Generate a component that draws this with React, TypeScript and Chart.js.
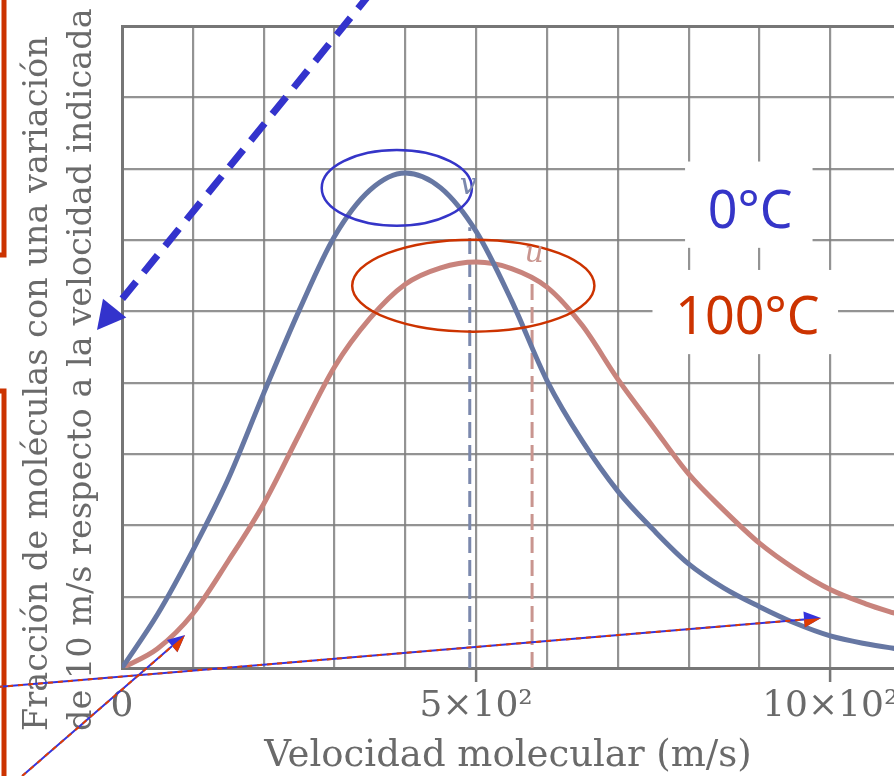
import React, { useEffect, useRef } from 'react';
import { Chart, registerables } from 'chart.js';

Chart.register(...registerables);

// ---------------- data ----------------
// molecular speed (m/s)
const speeds = [0, 50, 100, 150, 200, 250, 300, 350, 400, 450, 500, 550, 600, 650, 700, 750, 800, 850, 900, 950, 1000, 1050, 1100];
// fraction of molecules (grid units) at 0 °C
const fraction0C = [0, 0.75, 1.65, 2.65, 3.85, 5.01, 6.05, 6.7, 6.94, 6.73, 6.12, 5.15, 4.03, 3.18, 2.48, 1.94, 1.46, 1.12, 0.86, 0.63, 0.45, 0.34, 0.26];
// fraction of molecules (grid units) at 100 °C
const fraction100C = [0, 0.27, 0.76, 1.5, 2.3, 3.27, 4.22, 4.9, 5.38, 5.61, 5.69, 5.6, 5.34, 4.8, 4.05, 3.38, 2.72, 2.21, 1.75, 1.39, 1.1, 0.9, 0.74];

const seriesNames = ['0°C', '100°C'];

// characteristic speeds marked with dashed lines
const markerSpeeds = [491, 579];
const markerTops = [6.18, 5.42];
const markerLabels = ['v', 'u'];

// axes
const xGridValues = [0, 100, 200, 300, 400, 500, 600, 700, 800, 900, 1000];
const xTickLabels = ['0', '', '', '', '', '5×10²', '', '', '', '', '10×10²'];
const yGridValues = [0, 1, 2, 3, 4, 5, 6, 7, 8, 9];
const xMax = 1090;
const yMax = 9;
const xTitle = 'Velocidad molecular (m/s)';
const yTitleLines = ['Fracción de moléculas con una variación', 'de 10 m/s respecto a la velocidad indicada'];

// ---------------- styles ----------------
const BLUE_CURVE = '#6677a3';
const RED_CURVE = '#c8837c';
const BLUE_DASH = '#7b88ad';
const RED_DASH = '#c9958f';
const GRID = 'rgba(128,128,128,0.85)';
const AXIS = '#767676';
const TEXT_GREY = '#6a6a6a';
const ANNOT_BLUE = '#3535c8';
const ANNOT_RED = '#cc3300';

const annotationPlugin = {
  id: 'annotations',
  beforeDatasetsDraw(chart: any) {
    const ctx = chart.ctx as CanvasRenderingContext2D;
    const xs = chart.scales.x;
    const ys = chart.scales.y;
    // white patches behind the temperature labels (gaps in grid)
    const boxes = [
      { v0: 795, v1: 975, y0: 5.89, y1: 7.1 },
      { v0: 749, v1: 1011, y0: 4.4, y1: 5.58 },
    ];
    ctx.save();
    ctx.fillStyle = '#ffffff';
    boxes.forEach((b) => {
      const x0 = xs.getPixelForValue(b.v0);
      const x1 = xs.getPixelForValue(b.v1);
      const y0 = ys.getPixelForValue(b.y1);
      const y1 = ys.getPixelForValue(b.y0);
      ctx.fillRect(x0, y0, x1 - x0, y1 - y0);
    });
    ctx.restore();
  },
  afterDatasetsDraw(chart: any) {
    const ctx = chart.ctx as CanvasRenderingContext2D;
    const xs = chart.scales.x;
    const ys = chart.scales.y;
    const px = (v: number) => xs.getPixelForValue(v);
    const py = (v: number) => ys.getPixelForValue(v);

    ctx.save();
    // ellipses around the peaks
    const ellipses = [
      { cx: 388, cy: 6.73, rx: 106, ry: 0.53, color: ANNOT_BLUE },
      { cx: 496, cy: 5.36, rx: 171, ry: 0.645, color: ANNOT_RED },
    ];
    ellipses.forEach((e) => {
      const cx = px(e.cx);
      const cy = py(e.cy);
      const rx = px(e.cx + e.rx) - cx;
      const ry = cy - py(e.cy + e.ry);
      ctx.beginPath();
      ctx.ellipse(cx, cy, rx, ry, 0, 0, Math.PI * 2);
      ctx.strokeStyle = e.color;
      ctx.lineWidth = 2.5;
      ctx.stroke();
    });

    // v / u italic labels
    ctx.font = 'italic 30px "DejaVu Serif"';
    ctx.textAlign = 'center';
    ctx.textBaseline = 'middle';
    const labelPos = [
      { v: 489, y: 6.76, color: BLUE_DASH },
      { v: 582, y: 5.8, color: RED_DASH },
    ];
    markerLabels.forEach((t, i) => {
      ctx.fillStyle = labelPos[i].color;
      ctx.fillText(t, px(labelPos[i].v), py(labelPos[i].y));
    });

    // temperature labels
    ctx.font = '52px "Noto Sans"';
    ctx.textBaseline = 'alphabetic';
    ctx.fillStyle = ANNOT_BLUE;
    ctx.fillText(seriesNames[0], px(887), py(6.17));
    ctx.fillStyle = ANNOT_RED;
    ctx.fillText(seriesNames[1], px(883), py(4.68));
    ctx.restore();
  },
  afterDraw(chart: any) {
    const ctx = chart.ctx as CanvasRenderingContext2D;
    const xs = chart.scales.x;
    const ys = chart.scales.y;
    const px = (v: number) => xs.getPixelForValue(v);
    const py = (v: number) => ys.getPixelForValue(v);

    ctx.save();
    // y axis title (two rotated lines, left aligned from bottom)
    ctx.fillStyle = TEXT_GREY;
    ctx.font = '33.5px "DejaVu Serif"';
    ctx.textAlign = 'left';
    ctx.textBaseline = 'alphabetic';
    const baselines = [47, 91];
    yTitleLines.forEach((line, i) => {
      ctx.save();
      ctx.translate(baselines[i], 731);
      ctx.rotate(-Math.PI / 2);
      ctx.fillText(line, 0, 0);
      ctx.restore();
    });

    // red box edges at far left
    ctx.strokeStyle = ANNOT_RED;
    ctx.lineWidth = 5;
    ctx.beginPath();
    ctx.moveTo(4, -5);
    ctx.lineTo(4, 255);
    ctx.lineTo(-5, 255);
    ctx.stroke();
    ctx.beginPath();
    ctx.moveTo(-5, 391);
    ctx.lineTo(4, 391);
    ctx.lineTo(4, 790);
    ctx.stroke();

    const head = (x0: number, y0: number, x1: number, y1: number, len: number, half: number) => {
      const a = Math.atan2(y1 - y0, x1 - x0);
      const bx = x1 - len * Math.cos(a);
      const by = y1 - len * Math.sin(a);
      return {
        tip: [x1, y1],
        l: [bx + half * Math.sin(a), by - half * Math.cos(a)],
        r: [bx - half * Math.sin(a), by + half * Math.cos(a)],
        base: [bx, by],
      };
    };

    // thin bicolour arrows
    const thin = [
      { v0: -175, y0: -0.266, v1: 987, y1: 0.7 },
      { v0: -141, y0: -1.514, v1: 89, y1: 0.463 },
    ];
    thin.forEach((a) => {
      const x0 = px(a.v0), y0 = py(a.y0), x1 = px(a.v1), y1 = py(a.y1);
      const h = head(x0, y0, x1, y1, 17, 8);
      ctx.lineWidth = 2;
      ctx.setLineDash([]);
      ctx.strokeStyle = '#3333dd';
      ctx.beginPath();
      ctx.moveTo(x0, y0);
      ctx.lineTo(h.base[0], h.base[1]);
      ctx.stroke();
      ctx.setLineDash([5, 5]);
      ctx.strokeStyle = '#e03c00';
      ctx.beginPath();
      ctx.moveTo(x0, y0);
      ctx.lineTo(h.base[0], h.base[1]);
      ctx.stroke();
      ctx.setLineDash([]);
      ctx.fillStyle = '#3333dd';
      ctx.beginPath();
      ctx.moveTo(h.tip[0], h.tip[1]);
      ctx.lineTo(h.l[0], h.l[1]);
      ctx.lineTo(h.r[0], h.r[1]);
      ctx.closePath();
      ctx.fill();
      ctx.fillStyle = '#e03c00';
      ctx.beginPath();
      ctx.moveTo(h.tip[0], h.tip[1]);
      ctx.lineTo(h.r[0], h.r[1]);
      ctx.lineTo(h.base[0], h.base[1]);
      ctx.closePath();
      ctx.fill();
    });

    // thick dashed blue arrow
    {
      const x0 = px(347.5), y0 = py(9.42), x1 = px(-35.3), y1 = py(4.74);
      const h = head(x0, y0, x1, y1, 28, 15);
      ctx.strokeStyle = '#3333cc';
      ctx.lineWidth = 7;
      ctx.lineCap = 'butt';
      ctx.setLineDash([22, 12]);
      ctx.lineDashOffset = 6;
      ctx.beginPath();
      ctx.moveTo(x0, y0);
      ctx.lineTo(h.base[0], h.base[1]);
      ctx.stroke();
      ctx.setLineDash([]);
      ctx.fillStyle = '#3333cc';
      ctx.beginPath();
      ctx.moveTo(h.tip[0], h.tip[1]);
      ctx.lineTo(h.l[0], h.l[1]);
      ctx.lineTo(h.r[0], h.r[1]);
      ctx.closePath();
      ctx.fill();
    }
    ctx.restore();
  },
};

export default function App() {
  const ref = useRef<HTMLCanvasElement>(null);

  useEffect(() => {
    const canvas = ref.current;
    if (!canvas) return;
    const toPoints = (xs: number[], ys: number[]) => xs.map((x, i) => ({ x, y: ys[i] }));

    const chart = new Chart(canvas, {
      type: 'line',
      data: {
        datasets: [
          {
            label: seriesNames[0],
            data: toPoints(speeds, fraction0C),
            borderColor: BLUE_CURVE,
            borderWidth: 5,
            pointRadius: 0,
            cubicInterpolationMode: 'monotone',
            fill: false,
          },
          {
            label: seriesNames[1],
            data: toPoints(speeds, fraction100C),
            borderColor: RED_CURVE,
            borderWidth: 5,
            pointRadius: 0,
            cubicInterpolationMode: 'monotone',
            fill: false,
          },
          {
            label: markerLabels[0],
            data: [{ x: markerSpeeds[0], y: 0 }, { x: markerSpeeds[0], y: markerTops[0] }],
            borderColor: BLUE_DASH,
            borderWidth: 3,
            borderDash: [16, 7],
            pointRadius: 0,
            tension: 0,
          },
          {
            label: markerLabels[1],
            data: [{ x: markerSpeeds[1], y: 0 }, { x: markerSpeeds[1], y: markerTops[1] }],
            borderColor: RED_DASH,
            borderWidth: 3,
            borderDash: [16, 7],
            pointRadius: 0,
            tension: 0,
          },
        ],
      },
      options: {
        animation: false,
        responsive: false,
        maintainAspectRatio: false,
        events: [],
        layout: { padding: { top: 26, left: 0, right: 0, bottom: 0 } },
        plugins: {
          legend: { display: false },
          tooltip: { enabled: false },
          title: { display: false },
        },
        scales: {
          x: {
            type: 'linear',
            min: 0,
            max: xMax,
            afterBuildTicks: (s: any) => {
              s.ticks = xGridValues.map((v) => ({ value: v }));
            },
            afterFit: (s: any) => {
              s.height = 108;
              s.paddingLeft = 0;
              s.paddingRight = 0;
            },
            ticks: {
              autoSkip: false,
              maxRotation: 0,
              minRotation: 0,
              padding: 3,
              color: TEXT_GREY,
              font: { family: 'DejaVu Serif', size: 36 },
              callback: (value: any) => {
                const i = xGridValues.indexOf(Number(value));
                return i >= 0 ? xTickLabels[i] : '';
              },
            },
            grid: {
              color: GRID,
              lineWidth: 2.2,
              drawTicks: true,
              tickLength: 14,
              tickWidth: 2.5,
              tickColor: (c: any) => {
                const v = c.tick ? c.tick.value : -1;
                return v === 500 || v === 1000 ? AXIS : 'rgba(0,0,0,0)';
              },
            },
            border: { display: true, color: AXIS, width: 3 },
            title: {
              display: true,
              text: xTitle,
              color: TEXT_GREY,
              font: { family: 'DejaVu Serif', size: 37, lineHeight: 1.05 },
              padding: { top: 0, bottom: 0 },
            },
          },
          y: {
            type: 'linear',
            min: 0,
            max: yMax,
            afterBuildTicks: (s: any) => {
              s.ticks = yGridValues.map((v) => ({ value: v }));
            },
            afterFit: (s: any) => {
              s.width = 122;
              s.paddingTop = 0;
              s.paddingBottom = 0;
            },
            ticks: { display: false },
            grid: {
              drawTicks: false,
              color: (c: any) => (c.tick && c.tick.value === yMax ? AXIS : GRID),
              lineWidth: (c: any) => (c.tick && c.tick.value === yMax ? 3 : 2.2),
            },
            border: { display: true, color: AXIS, width: 3 },
          },
        },
      } as any,
      plugins: [annotationPlugin],
    });

    return () => chart.destroy();
  }, []);

  return (
    <div
      style={{
        position: 'fixed',
        left: 0,
        top: 0,
        width: 894,
        height: 776,
        overflow: 'hidden',
        background: '#ffffff',
      }}
    >
      <canvas ref={ref} width={894} height={776} style={{ display: 'block', width: 894, height: 776 }} />
    </div>
  );
}
